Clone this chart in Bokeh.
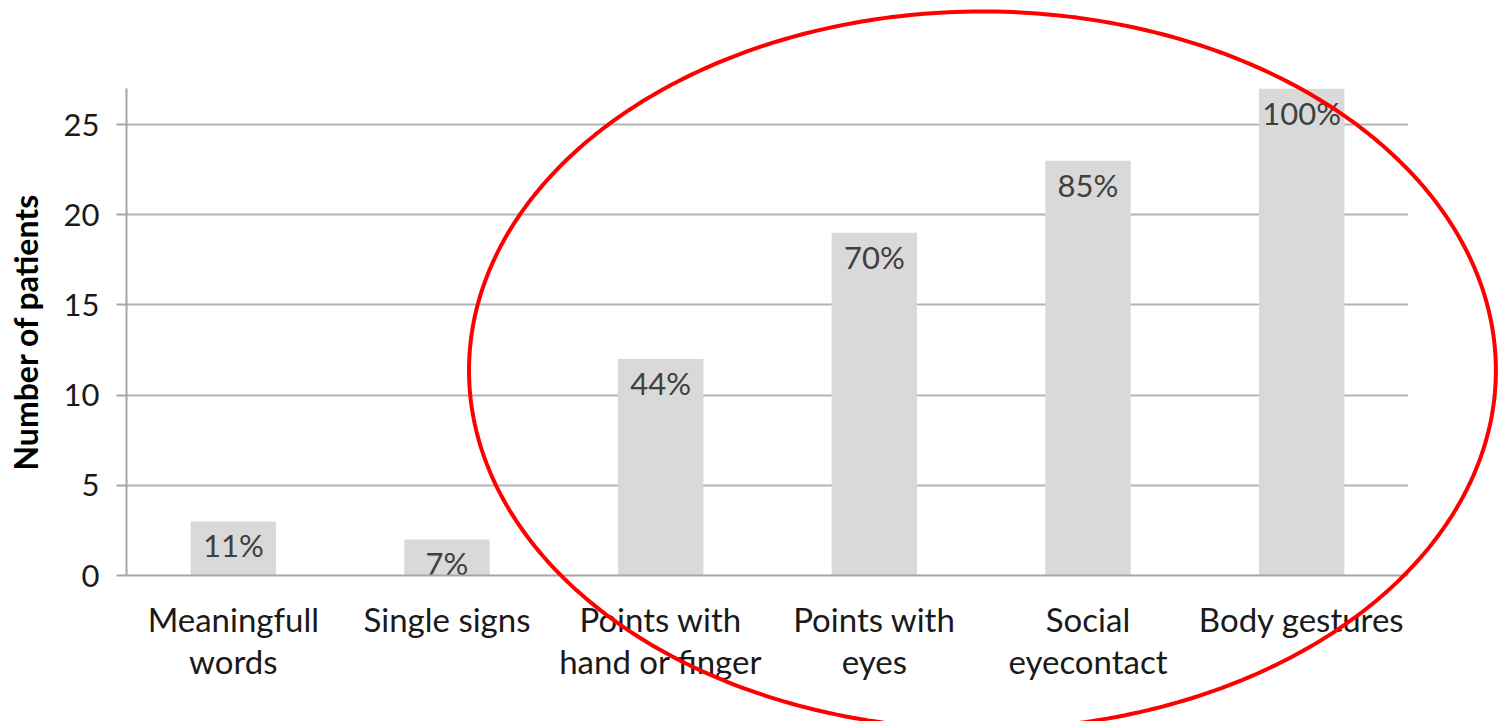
import numpy as np
from bokeh.plotting import figure
from bokeh.models import ColumnDataSource, FactorRange, Range1d, FixedTicker
from bokeh.core.properties import value
from bokeh.embed import file_html
from bokeh.resources import INLINE

# Communication behaviours and number of patients showing each
categories = [
    "Meaningfull\nwords",
    "Single signs",
    "Points with\nhand or finger",
    "Points with\neyes",
    "Social\neyecontact",
    "Body gestures",
]
patients = [3, 2, 12, 19, 23, 27]
total_patients = 27
percent_labels = [f"{round(100 * n / total_patients)}%" for n in patients]

y_ticks = [0, 5, 10, 15, 20, 25]

FONT = "Lato"
W, H = 1499, 721

source = ColumnDataSource(dict(cat=categories, n=patients, pct=percent_labels))

p = figure(
    width=W, height=H,
    x_range=FactorRange(*categories, range_padding=0),
    y_range=Range1d(0, 27),
    output_backend="svg", toolbar_location=None,
    min_border_left=126, min_border_right=91,
    min_border_top=88, min_border_bottom=146,
    background_fill_color="white", border_fill_color="white",
)
p.outline_line_color = None

p.vbar(x="cat", top="n", width=0.4, source=source,
       fill_color="#d9d9d9", line_color=None)
p.text(x="cat", y="n", text="pct", source=source,
       text_font=value(FONT), text_font_size="31px", text_color="#404040",
       text_align="center", text_baseline="middle", y_offset=24)

# y axis
p.yaxis.ticker = FixedTicker(ticks=y_ticks)
p.yaxis.axis_label = "Number of patients"
p.yaxis.axis_label_text_font = FONT
p.yaxis.axis_label_text_font_style = "bold"
p.yaxis.axis_label_text_font_size = "32px"
p.yaxis.axis_label_text_color = "#000000"
p.yaxis.axis_label_standoff = 16
p.yaxis.major_label_text_font = FONT
p.yaxis.major_label_text_font_size = "31px"
p.yaxis.major_label_text_color = "#1a1a1a"
p.yaxis.major_label_standoff = 17
p.yaxis.axis_line_color = "#a6a6a6"
p.yaxis.axis_line_width = 2
p.yaxis.major_tick_line_color = "#a6a6a6"
p.yaxis.major_tick_line_width = 2
p.yaxis.major_tick_out = 10
p.yaxis.major_tick_in = 0
p.yaxis.minor_tick_line_color = None

# x axis
p.xaxis.major_label_text_font = FONT
p.xaxis.major_label_text_font_size = "33px"
p.xaxis.major_label_text_color = "#1a1a1a"
p.xaxis.major_label_text_line_height = 1.05
p.xaxis.major_label_standoff = 17
p.xaxis.axis_line_color = "#a6a6a6"
p.xaxis.axis_line_width = 2
p.xaxis.major_tick_line_color = None
p.xaxis.minor_tick_line_color = None

p.xgrid.grid_line_color = None
p.ygrid.grid_line_color = "#b3b3b3"
p.ygrid.grid_line_width = 2

# red highlight ellipse around the non-verbal behaviours, in the x range's
# synthetic coordinates (category i spans i..i+1) and patient counts;
# drawn at overlay level so it may run past the plot frame
cx, cy, rx, ry = 4.006, 11.37, 2.403, 19.9
t = np.linspace(0, 2 * np.pi, 400)
p.line(x=cx + rx * np.cos(t), y=cy + ry * np.sin(t),
       line_color="#ff0000", line_width=4, level="overlay")

open("out.html", "w").write(file_html(p, INLINE))
